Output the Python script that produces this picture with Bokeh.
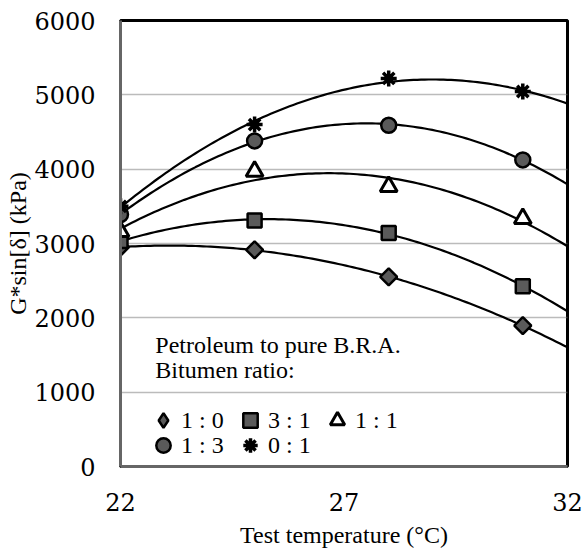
import numpy as np
from bokeh.plotting import figure
from bokeh.models import Range1d, FixedTicker, Legend, LegendItem, Label
from bokeh.embed import file_html
from bokeh.resources import INLINE

# ---- data ----
temps = [22, 25, 28, 31]
s_1_0 = [2950, 2915, 2550, 1895]
s_3_1 = [3035, 3310, 3140, 2425]
s_1_1 = [3160, 3970, 3765, 3335]
s_1_3 = [3390, 4380, 4590, 4125]
s_0_1 = [3500, 4600, 5220, 5045]
series_labels = ["1 : 0", "3 : 1", "1 : 1", "1 : 3", "0 : 1"]
x_ticks = [22, 27, 32]
y_ticks = [0, 1000, 2000, 3000, 4000, 5000, 6000]
legend_title_1 = "Petroleum to pure B.R.A."
legend_title_2 = "Bitumen ratio:"

FONT = "Liberation Serif"
TICK_FONT = "DejaVu Serif"

p = figure(width=588, height=550, output_backend="svg", toolbar_location=None,
           x_range=Range1d(22, 32), y_range=Range1d(0, 6000),
           min_border_left=120, min_border_right=21, min_border_top=20, min_border_bottom=77,
           background_fill_color="white", border_fill_color="white")

p.outline_line_color = "black"
p.outline_line_width = 3

p.xaxis.ticker = FixedTicker(ticks=x_ticks)
p.yaxis.ticker = FixedTicker(ticks=y_ticks)
p.axis.major_tick_line_color = None
p.axis.minor_tick_line_color = None
p.axis.axis_line_color = "#666666"
p.axis.axis_line_width = 3
p.xaxis.major_label_text_font = TICK_FONT
p.yaxis.major_label_text_font = TICK_FONT
p.axis.major_label_text_font_size = "24px"
p.axis.major_label_text_color = "black"
p.axis.axis_label_text_font = FONT
p.axis.axis_label_text_font_size = "24px"
p.axis.axis_label_text_font_style = "normal"
p.axis.axis_label_text_color = "black"
p.xaxis.major_label_standoff = 20
p.yaxis.major_label_standoff = 19
p.xaxis.axis_label = "Test temperature (°C)"
p.yaxis.axis_label = "G*sin[δ] (kPa)"
p.xaxis.axis_label_standoff = 8
p.yaxis.axis_label_standoff = 0

p.xgrid.grid_line_color = None
p.ygrid.grid_line_color = "#777777"
p.ygrid.grid_line_dash = "1 1"
p.ygrid.grid_line_width = 1.5

# trend lines (2nd-order polynomial fits of the data, like the original)
xs_fit = np.linspace(22, 32, 120)
all_series = [s_1_0, s_3_1, s_1_1, s_1_3, s_0_1]
for s in all_series:
    coef = np.polyfit(temps, s, 2)
    p.line(xs_fit, np.polyval(coef, xs_fit), line_color="black", line_width=2.2)

GRAY = "#5a5a5a"
# diamond key (hidden under the rotated squares; gives the legend a diamond swatch)
r1_key = p.scatter(temps, s_1_0, marker="diamond", size=10,
                   fill_color=GRAY, line_color="black", line_width=2.5)
r1 = p.scatter(temps, s_1_0, marker="square", angle=np.pi / 4, size=12,
               fill_color=GRAY, line_color="black", line_width=2.5)
r2 = p.scatter(temps, s_3_1, marker="square", size=14,
               fill_color=GRAY, line_color="black", line_width=2.5)
r3 = p.scatter(temps, s_1_1, marker="triangle", size=17,
               fill_color="white", line_color="black", line_width=3)
r4 = p.scatter(temps, s_1_3, marker="circle", size=15,
               fill_color=GRAY, line_color="black", line_width=2.5)
r5 = p.scatter(temps, s_0_1, marker="asterisk", size=16,
               line_color="black", line_width=3.5)

def make_legend(labels, renderers, loc):
    items = [LegendItem(label=lab, renderers=[r]) for lab, r in zip(labels, renderers)]
    lg = Legend(items=items, orientation="horizontal", location=loc,
                glyph_width=36, glyph_height=36, label_standoff=0,
                label_width=45, label_height=25, spacing=6,
                padding=0, margin=0, border_line_color=None,
                background_fill_alpha=0,
                label_text_font=FONT, label_text_font_size="24px",
                label_text_color="black")
    p.add_layout(lg, "center")
    return lg

make_legend(series_labels[:3], [r1_key, r2, r3], (25, 28))
make_legend(series_labels[3:], [r4, r5], (25, 3))

for txt, yv in [(legend_title_1, 1629), (legend_title_2, 1298)]:
    p.add_layout(Label(x=22.78, y=yv, text=txt, text_font=FONT,
                       text_font_size="24px", text_baseline="middle",
                       text_color="black"))

open("out.html", "w").write(file_html(p, INLINE))
